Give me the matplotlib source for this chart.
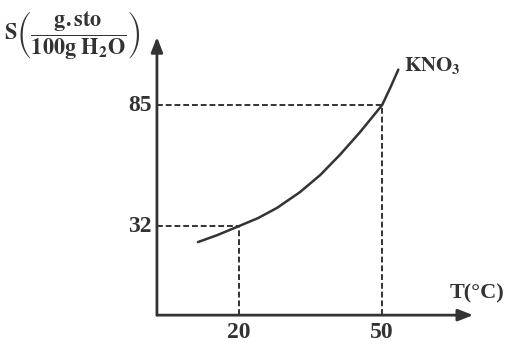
import matplotlib
matplotlib.use("Agg")
import matplotlib.pyplot as plt

# KNO3 solubility curve
temps = [11.4, 15.4, 20, 24, 28, 32.8, 37, 41.2, 45.4, 50, 51.7, 53.4]
solub = [25.0, 28.0, 32, 35.5, 40.0, 46.9, 54.3, 63.3, 73.2, 85, 92.5, 100.5]

# marked values
mark_t = [20, 50]
mark_s = [32, 85]

# where the drawn axes start / end (schematic, not at zero)
t0, s0 = 2.8, -7.0
t_end, s_end = 69.1, 114.8

plt.rcParams["font.family"] = ["Liberation Serif", "DejaVu Serif"]
plt.rcParams["mathtext.fontset"] = "stix"

ink = "#333333"

fig = plt.figure(figsize=(5.09, 3.43), dpi=100)
ax = fig.add_axes([0, 0, 1, 1])
ax.set_xlim(-30.1, 76.6)
ax.set_ylim(-19.2, 131.0)
ax.axis("off")

# axes with arrows
arrow = dict(arrowstyle="-|>,head_length=0.9,head_width=0.35", color=ink, lw=2, shrinkA=0, shrinkB=0)
ax.annotate("", xy=(t_end, s0), xytext=(t0, s0), arrowprops=arrow)
ax.annotate("", xy=(t0, s_end), xytext=(t0, s0), arrowprops=arrow)

# dashed guides
for t, s in zip(mark_t, mark_s):
    ax.plot([t0, t], [s, s], color=ink, lw=1.4, ls=(0, (3, 1.5)))
    ax.plot([t, t], [s0, s], color=ink, lw=1.4, ls=(0, (3, 1.5)))
    ax.annotate(str(s), xy=(t0, s), xytext=(-4, 0), textcoords="offset points",
                ha="right", va="center", fontsize=17, color=ink, fontweight="bold")
    ax.annotate(str(t), xy=(t, s0), xytext=(0, -5), textcoords="offset points",
                ha="center", va="top", fontsize=17, color=ink, fontweight="bold")

# curve
ax.plot(temps, solub, color=ink, lw=1.8, solid_capstyle="round", solid_joinstyle="round")
ax.annotate(r"$\mathbf{KNO_3}$", xy=(temps[-1], solub[-1]), xytext=(4, 3),
            textcoords="offset points", ha="left", va="center", fontsize=15, color=ink)

ax.text(0.992, 0.145, "T(°C)", transform=ax.transAxes, ha="right", va="center",
        fontsize=16, color=ink, fontweight="bold")

ax.text(0.008, 0.898, r"$\mathbf{S}\left(\dfrac{\mathbf{g.sto}}{\mathbf{100g\ H_2O}}\right)$",
        transform=ax.transAxes, ha="left", va="center", fontsize=16, color=ink)

fig.savefig("out.png", dpi=100)
